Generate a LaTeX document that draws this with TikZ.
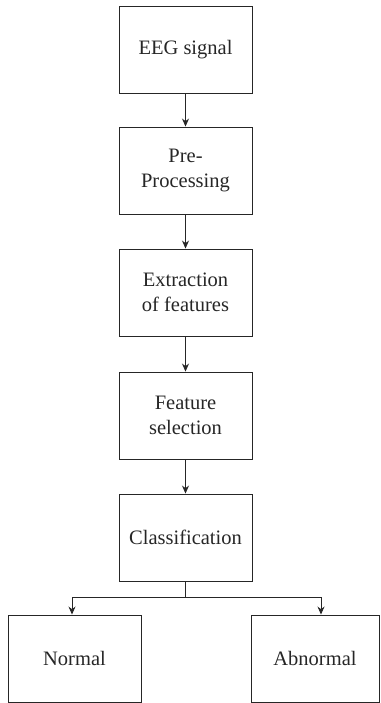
\documentclass[tikz,border=0pt]{standalone}
\usepackage{fontspec}
\setmainfont{Liberation Serif}
\usetikzlibrary{arrows.meta}
\begin{document}
\begin{tikzpicture}[x=1pt,y=-1pt,
  box/.style={draw=black!85,line width=0.9pt,minimum width=133pt,minimum height=87pt,align=center,font=\fontsize{20.5}{25}\selectfont,text=black!85,inner sep=0pt},
  conn/.style={draw=black!85,line width=0.9pt,-{Stealth[length=8pt,width=7pt]}}]
\useasboundingbox (0,0) rectangle (380,703);
\node[box] (eeg) at (185.5,49.5) {EEG signal};
\node[box] (pre) at (185.5,170.5) {Pre-\\Processing};
\node[box] (ext) at (185.5,292.5) {Extraction\\of features};
\node[box] (sel) at (185.5,415.5) {Feature\\selection};
\node[box] (cls) at (185.5,537.5) {Classification};
\node[box] (nor) at (74.5,658.5) {Normal};
\node[box,minimum width=128pt] (abn) at (315,658.5) {Abnormal};
\coordinate (split) at (185.5,597);
\draw[conn] (eeg) -- (pre);
\draw[conn] (pre) -- (ext);
\draw[conn] (ext) -- (sel);
\draw[conn] (sel) -- (cls);
\draw[draw=black!85,line width=0.9pt] (cls.south) -- (split);
\draw[conn] (split) -| ([xshift=-2.5pt]nor.north);
\draw[conn] (split) -| ([xshift=6pt]abn.north);
\end{tikzpicture}
\end{document}
